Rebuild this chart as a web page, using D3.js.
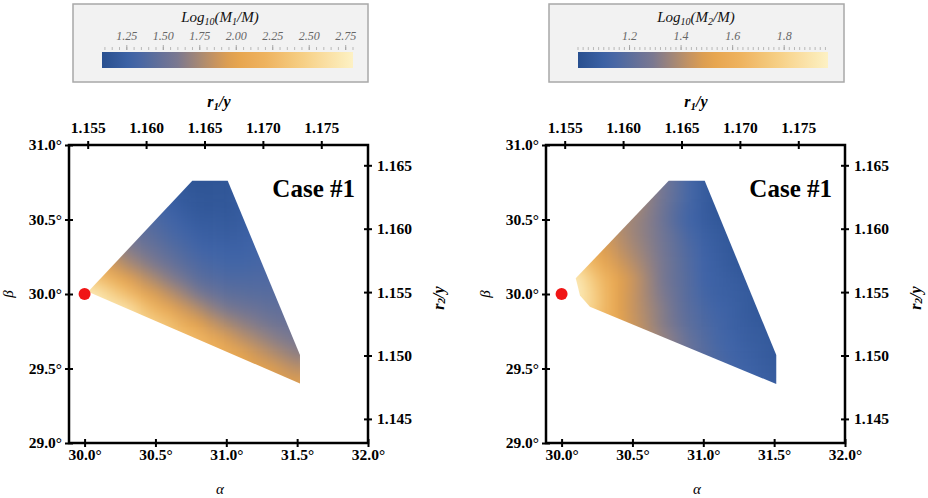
<!DOCTYPE html>
<html>
<head>
<meta charset="UTF-8">
<script src="https://cdn.jsdelivr.net/npm/d3@7"></script>
<style>
body { margin: 0; background: #fff; }
text { font-family: "Liberation Serif", "Times New Roman", serif; }
.tick text { font-weight: bold; font-size: 15.5px; fill: #000; }
.tick line { stroke: #000; stroke-width: 2; }
.legend text { font-style: italic; }
</style>
</head>
<body>
<svg id="chart" width="928" height="498"></svg>
<script>
var alphaGrid = [30.0, 30.1, 30.2, 30.3, 30.4, 30.5, 30.6, 30.7, 30.8, 30.9, 31.0, 31.1, 31.2, 31.3, 31.4, 31.5, 31.6];
var betaGrid = [30.8, 30.7, 30.6, 30.5, 30.4, 30.3, 30.2, 30.1, 30.0, 29.9, 29.8, 29.7, 29.6, 29.5, 29.4];

// log10(M1/M)
var m1Rows = [
  [1.5,1.5,1.45,1.42,1.4,1.3,1.22,1.14,1.12,1.13,1.14,1.2,1.26,1.34,1.4,1.46,1.46],
  [1.51,1.5,1.45,1.42,1.4,1.3,1.22,1.16,1.14,1.14,1.14,1.2,1.26,1.34,1.4,1.46,1.46],
  [1.56,1.54,1.47,1.42,1.4,1.31,1.25,1.2,1.17,1.16,1.16,1.2,1.26,1.34,1.4,1.46,1.46],
  [1.62,1.59,1.53,1.47,1.42,1.36,1.3,1.25,1.2,1.2,1.19,1.21,1.26,1.34,1.4,1.46,1.46],
  [1.73,1.68,1.61,1.54,1.47,1.41,1.35,1.3,1.25,1.23,1.22,1.24,1.27,1.34,1.4,1.46,1.46],
  [1.9,1.82,1.73,1.64,1.56,1.49,1.42,1.36,1.3,1.28,1.27,1.27,1.29,1.34,1.4,1.46,1.46],
  [2.15,2.04,1.9,1.77,1.68,1.59,1.51,1.43,1.37,1.33,1.31,1.31,1.32,1.34,1.4,1.46,1.46],
  [2.46,2.33,2.16,1.99,1.86,1.75,1.64,1.55,1.44,1.4,1.37,1.36,1.37,1.37,1.4,1.46,1.46],
  [2.75,2.67,2.48,2.29,2.09,1.94,1.82,1.71,1.59,1.51,1.45,1.44,1.42,1.41,1.42,1.46,1.46],
  [2.75,2.75,2.7,2.64,2.39,2.2,2.04,1.9,1.79,1.67,1.59,1.54,1.51,1.47,1.46,1.46,1.46],
  [2.75,2.75,2.7,2.65,2.55,2.45,2.31,2.13,1.98,1.86,1.76,1.68,1.62,1.56,1.52,1.5,1.5],
  [2.75,2.75,2.7,2.65,2.55,2.45,2.38,2.3,2.23,2.07,1.94,1.83,1.75,1.67,1.61,1.57,1.57],
  [2.75,2.75,2.7,2.65,2.55,2.45,2.38,2.3,2.25,2.18,2.12,2.01,1.9,1.81,1.73,1.66,1.66],
  [2.75,2.75,2.7,2.65,2.55,2.45,2.38,2.3,2.25,2.18,2.12,2.06,2.0,1.96,1.88,1.81,1.81],
  [2.75,2.75,2.7,2.65,2.55,2.45,2.38,2.3,2.25,2.18,2.12,2.06,2.0,1.98,1.96,1.95,1.95]
];

// log10(M2/M)
var m2Rows = [
  [1.45,1.45,1.45,1.45,1.45,1.42,1.35,1.28,1.21,1.13,1.07,1.04,1.03,1.02,1.02,1.02,1.02],
  [1.45,1.45,1.45,1.45,1.45,1.42,1.35,1.28,1.21,1.13,1.07,1.04,1.03,1.02,1.02,1.02,1.02],
  [1.42,1.42,1.42,1.42,1.42,1.4,1.33,1.27,1.2,1.13,1.08,1.04,1.03,1.03,1.03,1.03,1.03],
  [1.5,1.48,1.45,1.42,1.39,1.36,1.32,1.26,1.18,1.12,1.08,1.05,1.04,1.03,1.03,1.03,1.03],
  [1.55,1.55,1.51,1.46,1.41,1.36,1.32,1.27,1.21,1.14,1.1,1.07,1.05,1.04,1.04,1.04,1.04],
  [1.65,1.65,1.57,1.49,1.43,1.38,1.33,1.28,1.22,1.16,1.11,1.08,1.05,1.04,1.04,1.04,1.04],
  [1.8,1.8,1.67,1.55,1.47,1.41,1.35,1.29,1.23,1.17,1.12,1.09,1.06,1.04,1.04,1.04,1.04],
  [1.93,1.93,1.78,1.64,1.52,1.45,1.37,1.29,1.23,1.18,1.12,1.1,1.08,1.06,1.05,1.05,1.05],
  [1.95,1.95,1.82,1.66,1.51,1.44,1.37,1.3,1.24,1.18,1.13,1.1,1.09,1.07,1.05,1.05,1.05],
  [1.9,1.9,1.82,1.66,1.51,1.44,1.38,1.32,1.25,1.19,1.15,1.12,1.1,1.07,1.05,1.05,1.05],
  [1.85,1.8,1.72,1.63,1.54,1.45,1.39,1.32,1.26,1.2,1.16,1.13,1.1,1.08,1.06,1.05,1.05],
  [1.8,1.75,1.68,1.6,1.52,1.46,1.41,1.35,1.3,1.22,1.18,1.13,1.11,1.08,1.07,1.05,1.05],
  [1.75,1.7,1.64,1.57,1.5,1.45,1.4,1.35,1.3,1.24,1.19,1.15,1.12,1.1,1.08,1.06,1.06],
  [1.7,1.65,1.6,1.54,1.48,1.43,1.38,1.33,1.28,1.24,1.2,1.17,1.13,1.11,1.09,1.07,1.07],
  [1.7,1.65,1.6,1.54,1.48,1.43,1.38,1.33,1.28,1.24,1.2,1.17,1.14,1.12,1.1,1.08,1.08]
];

// allowed (alpha, beta) regions
var region1 = [[30.025,30.015],[30.76,30.76],[31.01,30.76],[31.52,29.59],[31.52,29.40]];
var region2 = [[30.10,30.105],[30.756,30.76],[31.01,30.76],[31.515,29.59],[31.515,29.396],[30.20,29.915],[30.13,29.99]];
var refPoint = [30.0, 30.0];

var alphaTicks = [30, 30.5, 31, 31.5, 32];
var betaTicks = [29, 29.5, 30, 30.5, 31];
var r1Ticks = [1.155, 1.16, 1.165, 1.17, 1.175];
var r2Ticks = [1.145, 1.15, 1.155, 1.16, 1.165];
var m1Ticks = [1.25, 1.5, 1.75, 2, 2.25, 2.5, 2.75];
var m2Ticks = [1.2, 1.4, 1.6, 1.8];

var palette = ['#284f8f', '#3f64a8', '#7a7890', '#c79460', '#e5a24c', '#eeb35f', '#f6cf85', '#fdf1c4'];
var paletteStops = [0, 0.12, 0.3, 0.45, 0.52, 0.65, 0.8, 1];
var ramp = d3.scaleLinear().domain(paletteStops).range(palette).interpolate(d3.interpolateRgb).clamp(true);

var svg = d3.select('#chart');
var defs = svg.append('defs');

var blur = defs.append('filter').attr('id', 'soft')
    .attr('x', '-15%').attr('y', '-15%').attr('width', '130%').attr('height', '130%')
    .attr('color-interpolation-filters', 'sRGB');
blur.append('feGaussianBlur').attr('stdDeviation', 7);

var panels = [
  { left: 69, rows: m1Rows, region: region1, cdom: [1.08, 2.80], cticks: m1Ticks, sub: '1', fmt: d3.format('.2f'), box: 73, bar: [102, 353] },
  { left: 546, rows: m2Rows, region: region2, cdom: [1.0, 1.97], cticks: m2Ticks, sub: '2', fmt: d3.format('.1f'), box: 549, bar: [578, 828] }
];

var W = 299, TOP = 145, BOTTOM = 443;

panels.forEach(function (p, k) {
    var x = d3.scaleLinear().domain([29.89, 32]).range([p.left, p.left + W]);
    var y = d3.scaleLinear().domain([29, 31]).range([BOTTOM, TOP]);
    var xTop = d3.scaleLinear().domain([1.1534, 1.1790]).range(x.range());
    var yRight = d3.scaleLinear().domain([1.1431, 1.1666]).range(y.range());
    var color = d3.scaleLinear().domain(p.cdom).range([0, 1]);

    // ---- legend
    var lg = svg.append('g').attr('class', 'legend');
    lg.append('rect')
        .attr('x', p.box).attr('y', 4).attr('width', 295).attr('height', 78)
        .attr('fill', '#f2f2f2').attr('stroke', '#a8a8a8').attr('stroke-width', 1.5);

    var gradId = 'grad' + k;
    var grad = defs.append('linearGradient').attr('id', gradId);
    d3.range(0, 1.0001, 0.05).forEach(function (t) {
        grad.append('stop').attr('offset', t).attr('stop-color', ramp(t));
    });
    var cx = d3.scaleLinear().domain(p.cdom).range(p.bar);
    lg.append('rect')
        .attr('x', p.bar[0]).attr('y', 52).attr('width', p.bar[1] - p.bar[0]).attr('height', 16)
        .attr('fill', 'url(#' + gradId + ')');

    lg.selectAll('.minor').data(cx.ticks(35)).enter().append('line')
        .attr('x1', cx).attr('x2', cx).attr('y1', 47).attr('y2', 50)
        .attr('stroke', '#aaa').attr('stroke-width', 0.8);
    lg.selectAll('.major').data(p.cticks).enter().append('line')
        .attr('x1', cx).attr('x2', cx).attr('y1', 45).attr('y2', 50)
        .attr('stroke', '#999').attr('stroke-width', 0.8);
    lg.selectAll('.clab').data(p.cticks).enter().append('text')
        .attr('x', cx).attr('y', 40).attr('text-anchor', 'middle')
        .attr('font-size', 12).attr('fill', '#666')
        .text(p.fmt);

    var title = lg.append('text')
        .attr('x', p.box + 147).attr('y', 22).attr('text-anchor', 'middle')
        .attr('font-size', 15).attr('fill', '#111');
    title.append('tspan').text('Log');
    title.append('tspan').attr('font-size', 10).attr('dy', 3).text('10');
    title.append('tspan').attr('dy', -3).text('(M');
    title.append('tspan').attr('font-size', 10).attr('dy', 3).text(p.sub);
    title.append('tspan').attr('dy', -3).text('/M)');

    // ---- density field
    var clipId = 'clip' + k;
    defs.append('clipPath').attr('id', clipId)
        .append('path')
        .attr('d', d3.line().x(function (d) { return x(d[0]); }).y(function (d) { return y(d[1]); })(p.region) + 'Z');

    var cells = [];
    p.rows.forEach(function (row, i) {
        row.forEach(function (v, j) {
            cells.push({ a: alphaGrid[j], b: betaGrid[i], v: v, i: i, j: j });
        });
    });
    var pad = 25;
    var field = svg.append('g').attr('clip-path', 'url(#' + clipId + ')')
        .append('g').attr('filter', 'url(#soft)');
    field.selectAll('rect').data(cells).enter().append('rect')
        .attr('x', function (d) { return x(d.a - 0.05) - (d.j === 0 ? pad : 0); })
        .attr('y', function (d) { return y(d.b + 0.05) - (d.i === 0 ? pad : 0); })
        .attr('width', function (d) {
            return x(d.a + 0.05) - x(d.a - 0.05) + 0.6 + (d.j === 0 || d.j === alphaGrid.length - 1 ? pad : 0);
        })
        .attr('height', function (d) {
            return y(d.b - 0.05) - y(d.b + 0.05) + 0.6 + (d.i === 0 || d.i === betaGrid.length - 1 ? pad : 0);
        })
        .attr('fill', function (d) { return ramp(color(d.v)); });

    // ---- frame + axes
    svg.append('rect')
        .attr('x', p.left).attr('y', TOP).attr('width', W).attr('height', BOTTOM - TOP)
        .attr('fill', 'none').attr('stroke', '#000').attr('stroke-width', 2.5);

    var deg = function (d) { return d.toFixed(1) + '°'; };
    var f3 = function (d) { return d.toFixed(3); };

    var gb = svg.append('g').attr('transform', 'translate(0,' + BOTTOM + ')')
        .call(d3.axisBottom(x).tickValues(alphaTicks).tickFormat(deg).tickSize(4).tickPadding(2));
    gb.selectAll('.tick line').attr('y1', -4);
    var gt = svg.append('g').attr('transform', 'translate(0,' + TOP + ')')
        .call(d3.axisTop(xTop).tickValues(r1Ticks).tickFormat(f3).tickSize(4).tickPadding(8));
    gt.selectAll('.tick line').attr('y1', 4);
    var gl = svg.append('g').attr('transform', 'translate(' + p.left + ',0)')
        .call(d3.axisLeft(y).tickValues(betaTicks).tickFormat(deg).tickSize(4).tickPadding(3));
    gl.selectAll('.tick line').attr('x1', 4);
    var gr = svg.append('g').attr('transform', 'translate(' + (p.left + W) + ',0)')
        .call(d3.axisRight(yRight).tickValues(r2Ticks).tickFormat(f3).tickSize(4).tickPadding(5));
    gr.selectAll('.tick line').attr('x1', -4);
    [gb, gt, gl, gr].forEach(function (g) {
        g.select('.domain').remove();
        g.attr('font-family', null).attr('font-size', null);
    });

    // axis titles
    var tt = svg.append('text')
        .attr('x', p.left + 150).attr('y', 107).attr('text-anchor', 'middle')
        .attr('font-size', 16).attr('font-weight', 'bold').attr('font-style', 'italic');
    tt.append('tspan').text('r');
    tt.append('tspan').attr('font-size', 11).attr('dy', 3).text('1');
    tt.append('tspan').attr('dy', -3).text('/y');

    var rt = svg.append('text')
        .attr('transform', 'translate(' + (p.left + W + 70) + ',298) rotate(-90)')
        .attr('text-anchor', 'middle').attr('dominant-baseline', 'central')
        .attr('font-size', 16).attr('font-weight', 'bold').attr('font-style', 'italic');
    rt.append('tspan').text('r');
    rt.append('tspan').attr('font-size', 11).attr('dy', 3).text('2');
    rt.append('tspan').attr('dy', -3).text('/y');

    svg.append('text')
        .attr('transform', 'translate(' + (p.left - 61) + ',294) rotate(-90)')
        .attr('text-anchor', 'middle').attr('dominant-baseline', 'central')
        .attr('font-size', 15).attr('font-style', 'italic').text('β');
    svg.append('text')
        .attr('x', p.left + 151).attr('y', 489)
        .attr('text-anchor', 'middle').attr('dominant-baseline', 'central')
        .attr('font-size', 15).attr('font-style', 'italic').text('α');

    svg.append('text')
        .attr('x', p.left + 286).attr('y', 197).attr('text-anchor', 'end')
        .attr('font-size', 25).attr('font-weight', 'bold').text('Case #1');

    svg.append('circle')
        .attr('cx', x(refPoint[0])).attr('cy', y(refPoint[1])).attr('r', 6)
        .attr('fill', '#f01515');
});
</script>
</body>
</html>
